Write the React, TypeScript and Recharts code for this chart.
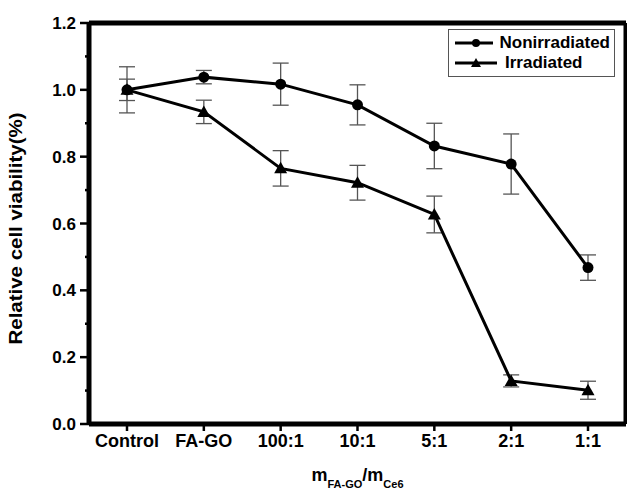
import React from "react";
import {
  ErrorBar,
  Line,
  LineChart,
  ReferenceLine,
  XAxis,
  YAxis,
} from "recharts";

const categories = ["Control", "FA-GO", "100:1", "10:1", "5:1", "2:1", "1:1"];
const nonirradiated = [1.0, 1.038, 1.017, 0.955, 0.832, 0.778, 0.468];
const nonirradiatedErr = [0.069, 0.02, 0.063, 0.06, 0.068, 0.09, 0.038];
const irradiated = [1.0, 0.934, 0.765, 0.722, 0.627, 0.129, 0.101];
const irradiatedErr = [0.032, 0.035, 0.053, 0.052, 0.055, 0.018, 0.027];
const yTicks = [0, 0.1, 0.2, 0.3, 0.4, 0.5, 0.6, 0.7, 0.8, 0.9, 1.0, 1.1, 1.2];

const data = categories.map((name, i) => ({
  name,
  non: nonirradiated[i],
  nonErr: nonirradiatedErr[i],
  irr: irradiated[i],
  irrErr: irradiatedErr[i],
}));

const FONT = "'Liberation Sans', Arial, sans-serif";

function YTick(props: any) {
  const { x, y, payload } = props;
  const v = Math.round(payload.value * 10);
  const major = v % 2 === 0;
  return (
    <g>
      <line x1={x} x2={x - (major ? 9 : 4)} y1={y} y2={y} stroke="#000" strokeWidth={2.5} />
      {major && (
        <text x={x - 13} y={y} dy={6} textAnchor="end" fontFamily={FONT} fontWeight="bold" fontSize={17} fill="#000">
          {payload.value.toFixed(1)}
        </text>
      )}
    </g>
  );
}

function XTick(props: any) {
  const { x, y, payload } = props;
  return (
    <text x={x} y={y} dy={14} textAnchor="middle" fontFamily={FONT} fontWeight="bold" fontSize={18} fill="#000">
      {payload.value}
    </text>
  );
}

function XTitle(props: any) {
  const vb = props.viewBox || {};
  const cx = vb.x + vb.width / 2;
  return (
    <text x={cx} y={vb.y + 57} textAnchor="middle" fontFamily={FONT} fontWeight="bold" fontSize={18} fill="#000">
      <tspan>m</tspan>
      <tspan dy={7} fontSize={11}>FA-GO</tspan>
      <tspan dy={-7}>/m</tspan>
      <tspan dy={7} fontSize={11}>Ce6</tspan>
    </text>
  );
}

function YTitle(props: any) {
  const vb = props.viewBox || {};
  const cy = vb.y + vb.height / 2 + 5;
  return (
    <text
      x={22}
      y={cy}
      transform={`rotate(-90 22 ${cy})`}
      textAnchor="middle"
      fontFamily={FONT}
      fontWeight="bold"
      fontSize={18}
      textLength={232}
      lengthAdjust="spacingAndGlyphs"
      fill="#000"
    >
      Relative cell viability(%)
    </text>
  );
}

function Triangle(props: any) {
  const { cx, cy } = props;
  if (cx == null || cy == null) return null;
  return <path d={`M${cx},${cy - 6.5} L${cx + 6.5},${cy + 5} L${cx - 6.5},${cy + 5} Z`} fill="#000" />;
}

function Circle(props: any) {
  const { cx, cy } = props;
  if (cx == null || cy == null) return null;
  return <circle cx={cx} cy={cy} r={5.5} fill="#000" />;
}

// frame edges: ReferenceLine is clipped to the plot box, so draw it wider
function EdgeLine(props: any) {
  const { x1, x2, y1, y2 } = props;
  return <line x1={x1} x2={x2} y1={y1} y2={y2} stroke="#000" strokeWidth={5} />;
}

function LegendBox() {
  const row = (marker: React.ReactNode, label: string) => (
    <div style={{ display: "flex", alignItems: "center", height: 20 }}>
      <svg width={46} height={14}>
        <line x1={2} x2={44} y1={7} y2={7} stroke="#000" strokeWidth={3} />
        {marker}
      </svg>
      <span style={{ marginLeft: 6, fontFamily: FONT, fontWeight: "bold", fontSize: 17 }}>{label}</span>
    </div>
  );
  return (
    <div
      style={{
        position: "absolute",
        top: 29,
        left: 448,
        border: "1.5px solid #555",
        background: "#fff",
        padding: "3px 4px",
        width: 167,
        boxSizing: "border-box",
      }}
    >
      {row(<circle cx={23} cy={7} r={4} fill="#000" />, "Nonirradiated")}
      {row(<path d="M23,2 L28,11 L18,11 Z" fill="#000" />, "Irradiated")}
    </div>
  );
}

export default function App() {
  return (
    <div style={{ position: "absolute", left: 0, top: 0, width: 627, height: 489, background: "#fff" }}>
      <LineChart width={627} height={489} data={data} margin={{ top: 23, right: 1, bottom: 0, left: 0 }}>
        <XAxis
          dataKey="name"
          padding={{ left: 38, right: 38 }}
          axisLine={false}
          tickLine={{ stroke: "#000", strokeWidth: 2.5 }}
          tickSize={7}
          tick={<XTick />}
          height={65}
          interval={0}
          label={<XTitle />}
        />
        <XAxis xAxisId="frame" dataKey="name" orientation="top" hide />
        <YAxis
          domain={[0, 1.2]}
          ticks={yTicks}
          interval={0}
          width={89}
          tickSize={0}
          tickMargin={0}
          tick={<YTick />}
          axisLine={false}
          label={<YTitle />}
        />
        <ReferenceLine y={0} ifOverflow="visible" shape={<EdgeLine />} />
        <ReferenceLine y={1.2} ifOverflow="visible" shape={<EdgeLine />} />
        <ReferenceLine xAxisId="frame" x={categories[0]} ifOverflow="visible" shape={<EdgeLine />} />
        <ReferenceLine xAxisId="frame" x={categories[categories.length - 1]} ifOverflow="visible" shape={<EdgeLine />} />
        <Line
          dataKey="non"
          stroke="#000"
          strokeWidth={3}
          dot={<Circle />}
          activeDot={false}
          isAnimationActive={false}
        >
          <ErrorBar dataKey="nonErr" width={8} stroke="#555" strokeWidth={1.3} direction="y" />
        </Line>
        <Line
          dataKey="irr"
          stroke="#000"
          strokeWidth={3}
          dot={<Triangle />}
          activeDot={false}
          isAnimationActive={false}
        >
          <ErrorBar dataKey="irrErr" width={8} stroke="#555" strokeWidth={1.3} direction="y" />
        </Line>
      </LineChart>
      <LegendBox />
    </div>
  );
}
